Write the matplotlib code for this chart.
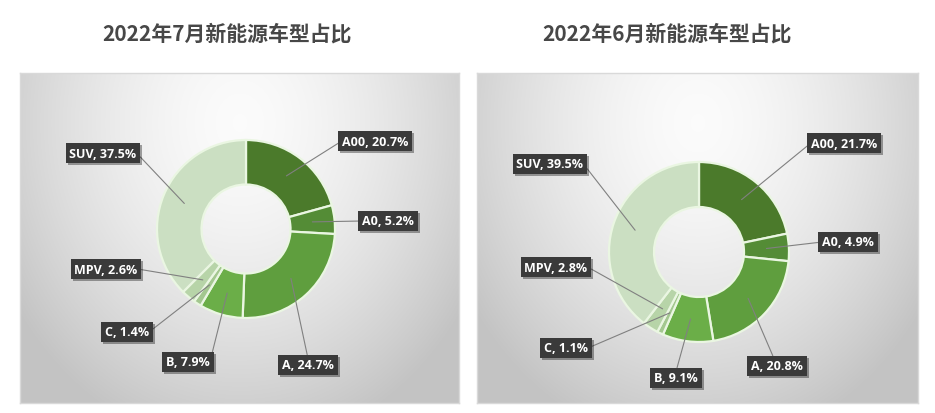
import numpy as np
import matplotlib
matplotlib.use("Agg")
import matplotlib.pyplot as plt
import matplotlib.patheffects as pe

plt.rcParams['font.family'] = ['Noto Sans CJK SC', 'DejaVu Sans']

categories = ["A00", "A0", "A", "B", "C", "MPV", "SUV"]
july_values = [20.7, 5.2, 24.7, 7.9, 1.4, 2.6, 37.5]
june_values = [21.7, 4.9, 20.8, 9.1, 1.1, 2.8, 39.5]
titles = ["2022年7月新能源车型占比", "2022年6月新能源车型占比"]
colors = ["#4b7a2b", "#548c36", "#5f9e3e", "#6bae48", "#a3c78f", "#b7d4a8", "#cbdfc2"]

W, H = 935, 414
fig = plt.figure(figsize=(W / 100, H / 100), dpi=100)
fig.patch.set_facecolor("white")

# panel rects in pixels: x0, y0(top), x1, y1(bottom)
panels = [(20, 74, 459, 404), (477, 74, 918, 404)]
# donut center (pixel) and radius
centers = [(246, 230, 89), (699, 253, 90)]
# label box centers (pixel) and leader attach (relpos)
label_pos = [
    {"A00": (375, 142, (0, 0.5)), "A0": (388, 222, (0, 0.5)), "A": (308, 366, (0.5, 1)),
     "B": (188, 363, (1, 0.5)), "C": (127, 333, (1, 0.5)), "MPV": (106, 270, (1, 0.5)),
     "SUV": (103, 154, (1, 0.5))},
    {"A00": (844, 144, (0, 0.5)), "A0": (848, 243, (0, 0.5)), "A": (777, 367, (0.45, 1)),
     "B": (676, 379, (0.5, 1)), "C": (566, 349, (1, 0.5)), "MPV": (556, 268, (1, 0.5)),
     "SUV": (550, 165, (1, 0.5))},
]
title_x = [227, 667]

# radial gradient background
def gradient(w, h):
    yy, xx = np.mgrid[0:h, 0:w]
    cx, cy = w * 0.5, h * 0.15
    d = np.sqrt(((xx - cx) / (w * 0.62)) ** 2 + ((yy - cy) / (h * 1.0)) ** 2)
    d = np.clip(d, 0, 1)
    v = 0.985 - 0.22 * d ** 1.6
    return np.dstack([v, v, v])

for i, (vals, title) in enumerate([(july_values, titles[0]), (june_values, titles[1])]):
    x0, y0, x1, y1 = panels[i]
    w, h = x1 - x0, y1 - y0
    ax = fig.add_axes([x0 / W, (H - y1) / H, w / W, h / H])
    ax.set_xlim(0, w)
    ax.set_ylim(0, h)
    ax.imshow(gradient(w, h), extent=(0, w, 0, h), origin="upper", zorder=0, aspect="auto")
    for s in ax.spines.values():
        s.set_color("#d9d9d9")
        s.set_linewidth(1.0)
    ax.set_xticks([])
    ax.set_yticks([])

    cxp, cyp, R = centers[i]
    cx, cy = cxp - x0, y1 - cyp
    wedges, _ = ax.pie(vals, colors=colors, startangle=90, counterclock=False,
                       center=(cx, cy), radius=R, frame=True,
                       wedgeprops=dict(width=R * 0.5, edgecolor="#eaf6e2", linewidth=1.6))
    ax.set_xlim(0, w)
    ax.set_ylim(0, h)
    ax.set_aspect("auto")

    for wdg, cat, v in zip(wedges, categories, vals):
        ang = np.deg2rad((wdg.theta1 + wdg.theta2) / 2)
        ax_pt = (cx + 0.75 * R * np.cos(ang), cy + 0.75 * R * np.sin(ang))
        lx, ly, rel = label_pos[i][cat]
        tx, ty = lx - x0, y1 - ly
        ann = ax.annotate(f"{cat}, {v}%", xy=ax_pt, xytext=(tx, ty),
                          ha="center", va="center", fontsize=9, fontweight="bold",
                          color="white", family=["Open Sans", "DejaVu Sans"],
                          bbox=dict(boxstyle="square,pad=0.3", fc="#3a3a3a", ec="none"),
                          arrowprops=dict(arrowstyle="-", color="#808080", lw=0.8,
                                          shrinkA=0, shrinkB=0, relpos=rel),
                          zorder=5)
        ann.get_bbox_patch().set_path_effects(
            [pe.SimplePatchShadow(offset=(1.5, -1.5), shadow_rgbFace="black", alpha=0.35),
             pe.Normal()])
    fig.text(title_x[i] / W, 1 - 34 / H, title, ha="center", va="center",
             fontsize=15, fontweight="bold", color="#474747")

fig.savefig("out.png", dpi=100, facecolor="white")
